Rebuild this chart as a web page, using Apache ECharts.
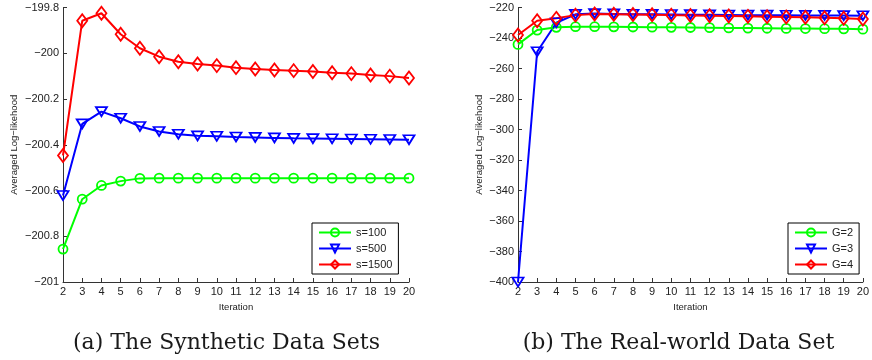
<!DOCTYPE html>
<html><head><meta charset="utf-8">
<script src="https://cdn.jsdelivr.net/npm/echarts@6/dist/echarts.min.js"></script>
<style>html,body{margin:0;padding:0;background:#fff}#c{width:872px;height:360px}</style>
</head><body><div id="c"></div>
<script>
const iterations = [2,3,4,5,6,7,8,9,10,11,12,13,14,15,16,17,18,19,20];
// (a) synthetic
const s100  = [-200.856,-200.638,-200.578,-200.559,-200.547,-200.546,-200.546,-200.546,-200.546,-200.546,-200.546,-200.546,-200.546,-200.546,-200.546,-200.546,-200.546,-200.546,-200.546];
const s500  = [-200.622,-200.309,-200.255,-200.284,-200.320,-200.342,-200.354,-200.361,-200.363,-200.366,-200.368,-200.370,-200.372,-200.373,-200.374,-200.375,-200.376,-200.377,-200.378];
const s1500 = [-200.447,-199.858,-199.825,-199.917,-199.978,-200.015,-200.037,-200.047,-200.054,-200.063,-200.069,-200.073,-200.076,-200.080,-200.085,-200.089,-200.095,-200.100,-200.108];
// (b) real-world
const g2 = [-244.2,-234.8,-233.0,-232.6,-232.6,-232.7,-232.8,-232.9,-233.0,-233.1,-233.2,-233.4,-233.5,-233.6,-233.7,-233.8,-233.9,-234.0,-234.2];
const g3 = [-400,-249,-230,-224.5,-224.0,-224.2,-224.4,-224.5,-224.6,-224.7,-224.8,-224.9,-225.0,-225.0,-225.1,-225.2,-225.2,-225.3,-225.4];
const g4 = [-238,-228.7,-227.1,-225.0,-224.3,-224.4,-224.6,-224.8,-225.0,-225.2,-225.4,-225.6,-225.8,-226.0,-226.2,-226.4,-226.7,-227.0,-227.5];
const namesA = ['s=100','s=500','s=1500'];
const namesB = ['G=2','G=3','G=4'];
const yTicksA = {min:-201, max:-199.8, interval:0.2};
const yTicksB = {min:-400, max:-220, interval:20};
const captionA = '(a) The Synthetic Data Sets';
const captionB = '(b) The Real-world Data Set';

const GREEN='#00ff00', BLUE='#0000ff', RED='#ff0000';
const pair = a => a.map((v,i)=>[iterations[i], v]);
const fmt = v => { let s = String(Number(v.toFixed(1))); return s.replace('-', '\u2212'); };

function ser(name, data, color, kind, idx){
  const base = {name, type:'line', data:pair(data), xAxisIndex:idx, yAxisIndex:idx,
    lineStyle:{color, width:2}, itemStyle:{color:'rgba(255,255,255,0)', borderColor:color, borderWidth:1.8},
    color, showAllSymbol:true, animation:false, z: 2};
  if(kind==='o'){ base.symbol='circle'; base.symbolSize=9; }
  if(kind==='v'){ base.symbol='triangle'; base.symbolSize=[11,9]; base.symbolRotate=180; }
  if(kind==='d'){ base.symbol='diamond'; base.symbolSize=[10,13]; }
  return base;
}
const axisCommon = {
  axisLine:{show:true, onZero:false, lineStyle:{color:'#333', width:1}},
  axisTick:{show:true, inside:true, length:4, lineStyle:{color:'#333'}},
  splitLine:{show:false},
  axisLabel:{color:'#222', fontFamily:'Liberation Sans, Arial', fontSize:11, margin:4},
  nameTextStyle:{color:'#222', fontFamily:'Liberation Sans, Arial', fontSize:9.5}
};
function xAx(idx){ return Object.assign({}, axisCommon, {type:'value', gridIndex:idx, min:2, max:20, interval:1,
  name:'Iteration', nameLocation:'middle', nameGap:17}); }
function yAx(idx, t){ return Object.assign({}, axisCommon, {type:'value', gridIndex:idx, min:t.min, max:t.max, interval:t.interval,
  name:'Averaged Log\u2212likehood', nameLocation:'middle', nameGap: idx===0?44:34,
  axisLabel:Object.assign({}, axisCommon.axisLabel, {formatter:fmt})}); }
function legend(names, left, top){
  return {data:names, orient:'vertical', left, top, backgroundColor:'#fff', borderColor:'#000', borderWidth:1,
    padding:[4,6,4,6], itemWidth:32, itemHeight:10, itemGap:5, selectedMode:false,
    textStyle:{color:'#222', fontFamily:'Liberation Sans, Arial', fontSize:11}};
}
const chart = echarts.init(document.getElementById('c'), null, {renderer:'canvas'});
chart.setOption({
  animation:false,
  backgroundColor:'#fff',
  grid:[{left:63, top:7.5, width:346, height:274.5}, {left:518, top:7.5, width:347, height:274.5}],
  xAxis:[xAx(0), xAx(1)],
  yAxis:[yAx(0,yTicksA), yAx(1,yTicksB)],
  legend:[legend(namesA, 312, 223), legend(namesB, 788, 223)],
  series:[
    ser(namesA[0], s100, GREEN, 'o', 0), ser(namesA[1], s500, BLUE, 'v', 0), ser(namesA[2], s1500, RED, 'd', 0),
    ser(namesB[0], g2, GREEN, 'o', 1), ser(namesB[1], g3, BLUE, 'v', 1), ser(namesB[2], g4, RED, 'd', 1)
  ],
  graphic:[
    {type:'text', style:{text:captionA, x:226.5, y:343, align:'center', verticalAlign:'middle', font:'22px "DejaVu Serif", serif', fill:'#1a1a1a'}},
    {type:'text', style:{text:captionB, x:678.5, y:343, align:'center', verticalAlign:'middle', font:'22px "DejaVu Serif", serif', fill:'#1a1a1a'}}
  ]
});
</script></body></html>
